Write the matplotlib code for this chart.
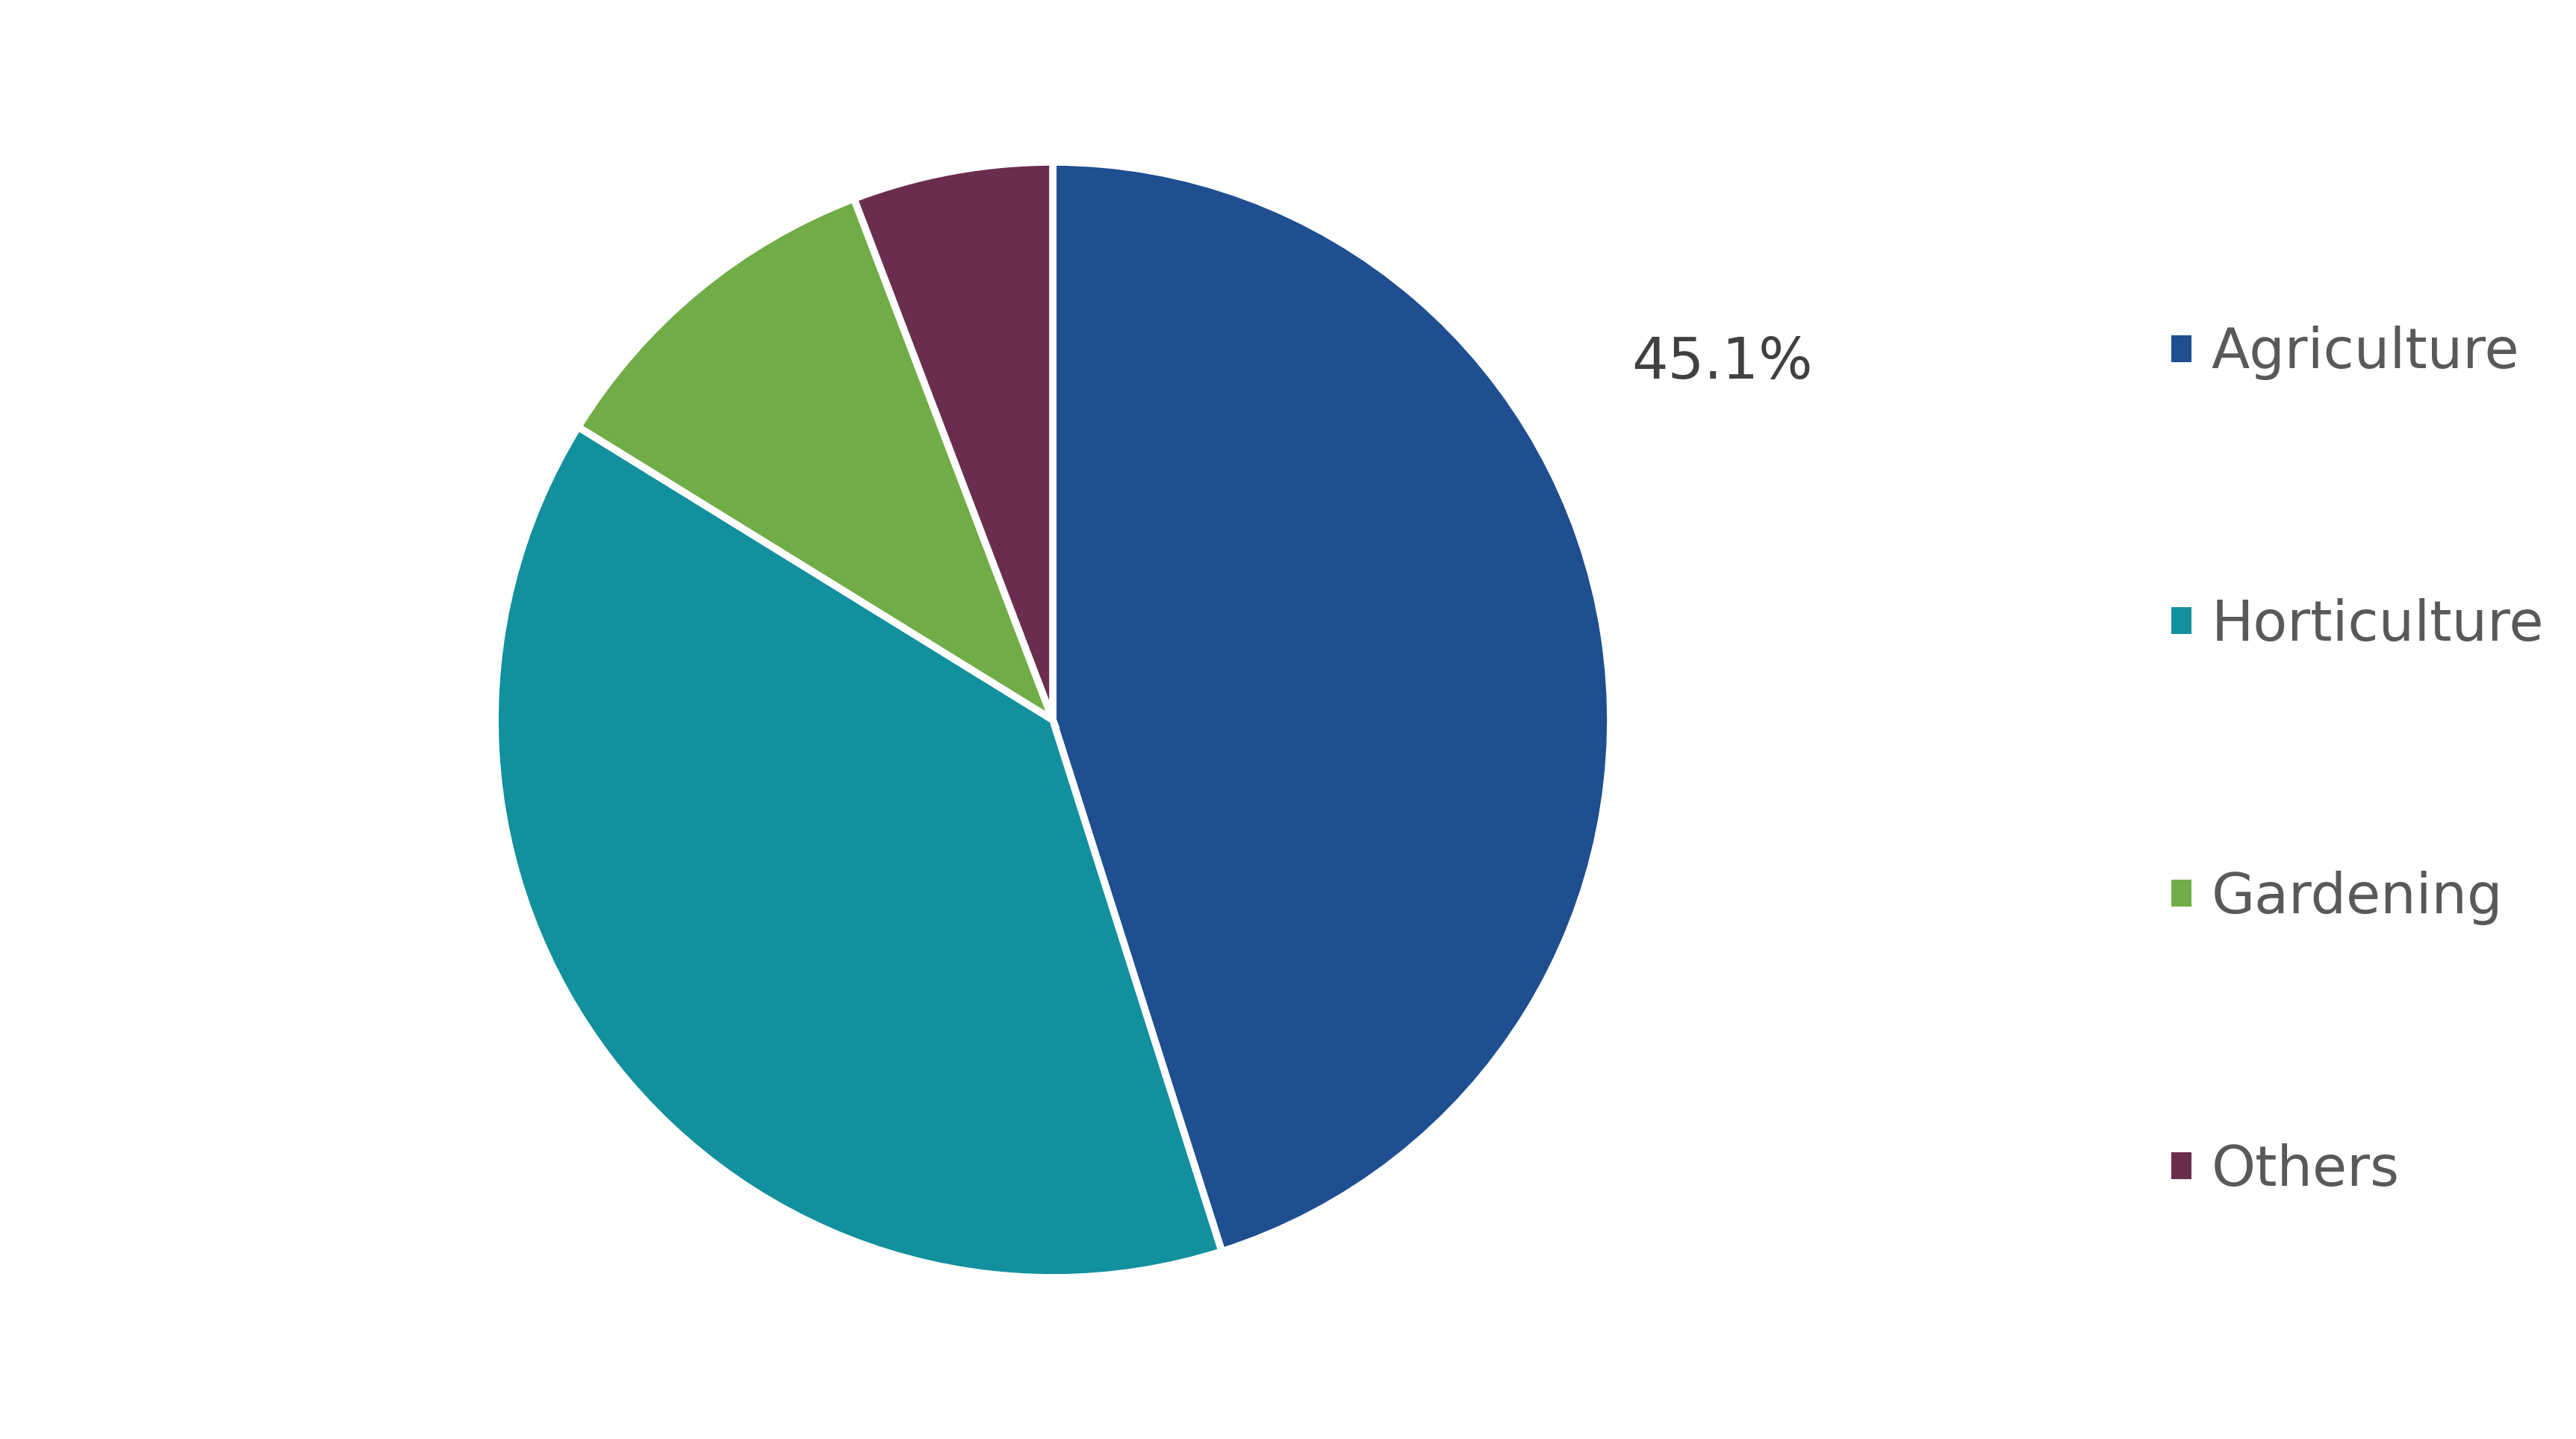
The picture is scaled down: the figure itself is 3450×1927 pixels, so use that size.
import matplotlib
matplotlib.use("Agg")
import matplotlib.pyplot as plt
from matplotlib.patches import Patch

plt.rcParams.update({
    "font.family": "DejaVu Sans",
})

categories = ["Agriculture", "Horticulture", "Gardening", "Others"]
shares = [45.1, 38.7, 10.4, 5.8]
colors = ["#1F4E91", "#12909D", "#70AD47", "#6B2D4F"]

W, H = 3450, 1927
fig = plt.figure(figsize=(W / 100, H / 100), dpi=100)

# pie axes: centre ~ (1410, 964) px, radius ~747 px
cx, cy, r = 1410, 964, 747
ax = fig.add_axes([(cx - r) / W, (H - cy - r) / H, 2 * r / W, 2 * r / H])
wedges, _ = ax.pie(
    shares, colors=colors, startangle=90, counterclock=False,
    radius=1.0, wedgeprops=dict(edgecolor="white", linewidth=7),
)
ax.set_xlim(-1, 1)
ax.set_ylim(-1, 1)
ax.set_aspect("equal")
ax.axis("off")

# only the largest share carries a data label
ax.text(1.2, 0.64, f"{shares[0]:.1f}%", fontsize=55, color="#404040",
        ha="center", va="center")

handles = [Patch(facecolor=c, edgecolor="none") for c in colors]
fig.legend(
    handles, categories, loc="upper left", bbox_to_anchor=(0.843, 0.7735),
    frameon=False, fontsize=54, labelcolor="#595959",
    handlelength=0.36, handleheight=0.36, handletextpad=0.35,
    labelspacing=3.89, borderpad=0, borderaxespad=0,
)

fig.savefig("out.png", dpi=100, facecolor="white")
